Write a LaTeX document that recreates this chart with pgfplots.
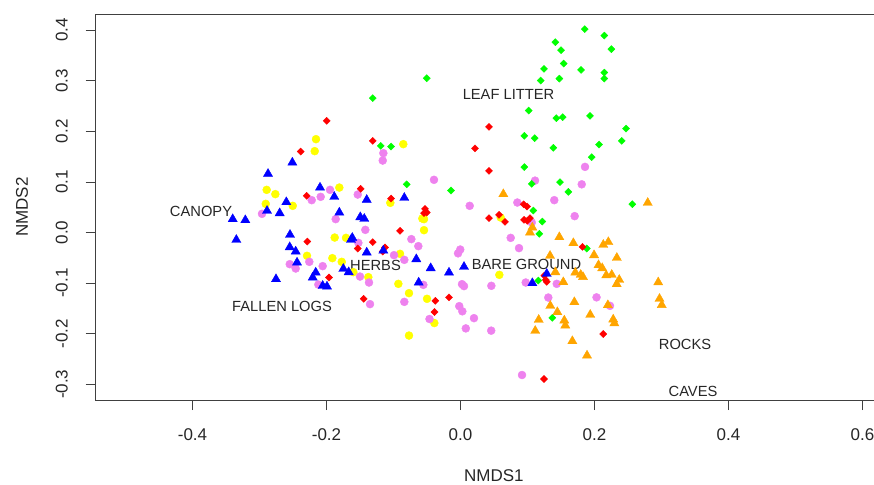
\documentclass[border=0pt]{standalone}
\usepackage{pgfplots}
\pgfplotsset{compat=1.18}
\usepackage{fontspec}
\setmainfont{Liberation Sans}

\definecolor{rred}{HTML}{FF0000}
\definecolor{rgreen}{HTML}{00FF00}
\definecolor{rblue}{HTML}{0000FF}
\definecolor{ryellow}{HTML}{FFFF00}
\definecolor{rviolet}{HTML}{EE82EE}
\definecolor{rorange}{HTML}{FFA500}

\begin{document}
\begin{tikzpicture}[x=1pt,y=1pt]
\useasboundingbox (0,0) rectangle (874,484);
\clip (0,0) rectangle (874,484);
\begin{axis}[
    at={(95.7pt,84pt)}, anchor=south west,
    scale only axis,
    width=796.3pt, height=386pt,
    xmin=-0.5445, xmax=0.644,
    ymin=-0.331, ymax=0.432,
    xtick={-0.4,-0.2,0,0.2,0.4,0.6},
    ytick={-0.3,-0.2,-0.1,0,0.1,0.2,0.3,0.4},
    xtick pos=lower, ytick pos=left,
    tick align=outside,
    major tick length=10pt,
    axis line style={black!75, line width=0.9pt},
    every tick/.style={black!75, line width=0.9pt},
    /pgf/number format/assume math mode=true,
    /pgf/number format/.cd, fixed, fixed zerofill, precision=1, /pgfplots/.cd,
    tick label style={font=\fontsize{17}{17}\selectfont, text=black!85},
    xticklabel style={anchor=center},
    xticklabel shift=25pt,
    yticklabel style={rotate=90, anchor=center},
    yticklabel shift=24pt,
    xlabel={NMDS1},
    ylabel={NMDS2},
    label style={font=\fontsize{17}{17}\selectfont, text=black!85},
    xlabel style={at={(axis description cs:0.5,0)}, anchor=center, yshift=-76pt},
    ylabel style={at={(axis description cs:-0.0925,0.5)}, anchor=center},
    clip=false,
  ]

  % yellow circles
  \addplot[only marks, mark=*, mark size=4pt, color=ryellow] coordinates {
    (-0.2157,0.1846) (-0.2176,0.1609) (-0.2893,0.0844) (-0.2764,0.0759)
    (-0.2907,0.0567) (-0.2504,0.0528) (-0.2291,-0.0460) (-0.1809,0.0889)
    (-0.0854,0.1747) (-0.1048,0.0587) (-0.0570,0.0277) (-0.0545,0.0265)
    (-0.0545,0.0047) (-0.1878,-0.0099) (-0.1709,-0.0105) (-0.0903,-0.0421)
    (-0.1913,-0.0506) (-0.1773,-0.0579) (-0.1600,-0.0783) (-0.1376,-0.0881)
    (-0.0928,-0.1014) (-0.0769,-0.1198) (-0.0500,-0.1310) (-0.0391,-0.1789)
    (-0.0769,-0.2036) (0.0600,0.0296) (0.0579,-0.0836)
  };

  % violet circles
  \addplot[only marks, mark=*, mark size=4pt, color=rviolet] coordinates {
    (-0.2221,0.0640) (-0.2087,0.0706) (-0.1948,0.0844) (-0.2963,0.0370)
    (-0.2549,-0.0625) (-0.2460,-0.0711) (-0.2257,-0.0579) (-0.2057,-0.0664)
    (-0.2122,-0.1028) (-0.1152,0.1569) (-0.1161,0.1423) (-0.1534,0.0751)
    (-0.0396,0.1042) (0.0137,0.0528) (-0.1863,0.0265) (-0.1421,0.0053)
    (-0.1525,-0.0204) (-0.0734,-0.0130) (-0.0630,-0.0269) (-0.0993,-0.0447)
    (-0.0839,-0.0540) (-0.0004,-0.0336) (-0.0037,-0.0411) (-0.1500,-0.0870)
    (-0.1366,-0.0988) (-0.0555,-0.1034) (0.0022,-0.1020) (0.0052,-0.1059)
    (-0.1351,-0.1415) (-0.0839,-0.1370) (-0.0019,-0.1455) (0.0027,-0.1557)
    (0.0201,-0.1692) (-0.0463,-0.1709) (0.0079,-0.1895) (0.0458,-0.1939)
    (0.1858,0.1298) (0.1112,0.1026) (0.1809,0.0953) (0.1399,0.0640)
    (0.0848,0.0593) (0.1704,0.0324) (0.1063,0.0198) (0.0749,-0.0105)
    (0.0873,-0.0308) (0.0973,-0.0988) (0.1436,-0.1014) (0.0460,-0.1053)
    (0.1310,-0.1285) (0.2030,-0.1281) (0.2231,-0.1449) (0.0918,-0.2816)
  };

  % green diamonds
  \addplot[only marks, mark=square*, mark size=2.5pt, mark options={rotate=45}, color=rgreen] coordinates {
    (0.1854,0.4020) (0.2146,0.3893) (0.1415,0.3763) (0.2251,0.3625)
    (0.1500,0.3605) (0.1540,0.3340) (0.1799,0.3215) (0.1246,0.3235)
    (0.2146,0.3162) (0.2146,0.3043) (0.1475,0.3043) (0.1197,0.3004)
    (0.1018,0.2411) (0.1430,0.2261) (0.1525,0.2281) (0.1933,0.2306)
    (0.2470,0.2055) (0.2406,0.1812) (0.0952,0.1911) (0.1107,0.1866)
    (0.1385,0.1674) (0.2067,0.1739) (0.1958,0.1490) (0.0952,0.1294)
    (0.1485,0.0996) (0.1063,0.0962) (0.1609,0.0804) (-0.0142,0.0830)
    (0.2564,0.0561) (0.1087,0.0435) (0.1221,0.0217) (0.1176,-0.0026)
    (0.1884,-0.0316) (0.1161,-0.0949) (0.1370,-0.1686) (-0.0504,0.3051)
    (-0.1310,0.2656) (-0.1191,0.1713) (-0.1037,0.1700) (-0.0803,0.0953)
  };

  % red diamonds
  \addplot[only marks, mark=square*, mark size=2.5pt, mark options={rotate=45}, color=rred] coordinates {
    (-0.1997,0.2208) (-0.2385,0.1601) (-0.2296,0.0725) (-0.2287,-0.0178)
    (-0.1963,-0.0889) (-0.1310,0.1812) (-0.1490,0.0864) (-0.1037,0.0672)
    (-0.0530,0.0468) (-0.0504,0.0395) (-0.0545,0.0383) (-0.0903,0.0034)
    (-0.1310,-0.0190) (-0.1534,-0.0316) (-0.1127,-0.0296) (-0.1161,-0.0375)
    (-0.0172,-0.1281) (-0.0376,-0.1350) (-0.1445,-0.1310) (-0.0388,-0.1571)
    (0.0216,0.1664) (0.0425,0.2089) (0.0425,0.1219) (0.0943,0.0557)
    (0.0993,0.0514) (0.0425,0.0285) (0.0575,0.0350) (0.0664,0.0211)
    (0.0948,0.0251) (0.0997,0.0231) (0.1037,0.0285) (0.1821,-0.0283)
    (0.1251,-0.0850) (0.1272,-0.0935) (0.1287,-0.0974) (0.2130,-0.2006)
    (0.1246,-0.2895)
  };

  % blue triangles
  \addplot[only marks, mark=triangle*, mark size=5.3pt, color=rblue] coordinates {
    (-0.2510,0.1383) (-0.2873,0.1160) (-0.2097,0.0889) (-0.2600,0.0601)
    (-0.2888,0.0429) (-0.2699,0.0383) (-0.3400,0.0265) (-0.3212,0.0245)
    (-0.3346,-0.0144) (-0.2545,-0.0045) (-0.2549,-0.0289) (-0.2460,-0.0375)
    (-0.2440,-0.0593) (-0.2161,-0.0791) (-0.2206,-0.0889) (-0.2754,-0.0921)
    (-0.2057,-0.1053) (-0.1993,-0.1067) (-0.1884,0.0706) (-0.1400,0.0646)
    (-0.0839,0.0686) (-0.1809,0.0395) (-0.1496,0.0304) (-0.1436,0.0271)
    (-0.1615,-0.0105) (-0.1634,-0.0144) (-0.1400,-0.0395) (-0.1152,-0.0356)
    (-0.0660,-0.0526) (-0.0445,-0.0704) (-0.0172,-0.0791) (0.0052,-0.0678)
    (-0.1749,-0.0717) (-0.1669,-0.0783) (-0.0624,-0.0988) (0.1287,-0.0816)
    (0.1072,-0.1000)
  };

  % orange triangles
  \addplot[only marks, mark=triangle*, mark size=5.3pt, color=rorange] coordinates {
    (0.0639,0.0759) (0.2794,0.0587) (0.1072,0.0099) (0.1037,0.0000)
    (0.1475,-0.0091) (0.1684,-0.0209) (0.2131,-0.0243) (0.2206,-0.0188)
    (0.1993,-0.0447) (0.2333,-0.0500) (0.1336,-0.0460) (0.2060,-0.0644)
    (0.2115,-0.0704) (0.1713,-0.0791) (0.1794,-0.0836) (0.1828,-0.0879)
    (0.2175,-0.0846) (0.2257,-0.0836) (0.2369,-0.0935) (0.2331,-0.1020)
    (0.1415,-0.0783) (0.1534,-0.0980) (0.2951,-0.0984) (0.2970,-0.1310)
    (0.3003,-0.1433) (0.1699,-0.1375) (0.1340,-0.1449) (0.2199,-0.1435)
    (0.1936,-0.1626) (0.1445,-0.1573) (0.2279,-0.1719) (0.2296,-0.1794)
    (0.1167,-0.1725) (0.1549,-0.1739) (0.1564,-0.1838) (0.1115,-0.1943)
    (0.1669,-0.2146) (0.1888,-0.2431)
  };

  % habitat labels
  \begin{scope}[every node/.style={font=\fontsize{14.7}{14.7}\selectfont, text=black!85, inner sep=0pt, anchor=center}]
    \node at (axis cs:-0.3873,0.0415) {CANOPY};
    \node at (axis cs:-0.2664,-0.1468) {FALLEN LOGS};
    \node at (axis cs:-0.1269,-0.0652) {HERBS};
    \node at (axis cs:0.0985,-0.0625) {BARE GROUND};
    \node at (axis cs:0.0716,0.2721) {LEAF LITTER};
    \node at (axis cs:0.3351,-0.2213) {ROCKS};
    \node at (axis cs:0.3470,-0.3142) {CAVES};
  \end{scope}
\end{axis}
\end{tikzpicture}
\end{document}
